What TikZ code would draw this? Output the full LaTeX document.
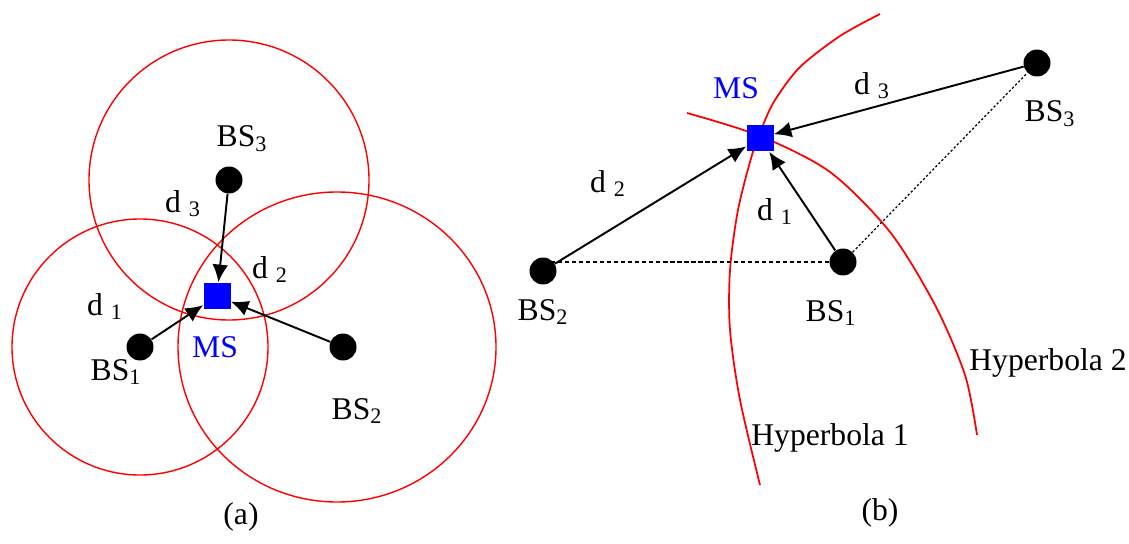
\documentclass[tikz,border=0pt]{standalone}
\usepackage{fontspec}
\setmainfont{Liberation Serif}
\usetikzlibrary{arrows.meta}

\begin{document}
\begin{tikzpicture}[x=0.02cm, y=-0.02cm,
	bs/.style={circle, fill=black, minimum size=0.54cm, inner sep=0pt},
	ms/.style={rectangle, fill=blue, minimum size=0.54cm, inner sep=0pt},
	txt/.style={font=\fontsize{18}{21}\selectfont, inner sep=0pt, anchor=base},
	rng/.style={line width=0.8pt, color=red},
	dist/.style={-{Latex[length=10pt,width=9pt]}, line width=1.1pt}]
	\useasboundingbox (0,0) rectangle (1129,544);
	% (a) circles
	\begin{scope}
	\draw[rng] (229,180) circle (140);
	\draw[rng] (140,347) circle (128);
	\draw[rng] (337,347) ellipse (159 and 155);
	\node[bs] (bs3a) at (229,180) {};
	\node[bs] (bs1a) at (140,347) {};
	\node[bs] (bs2a) at (343,347) {};
	\node[ms] (msa) at (217,296) {};
	\foreach \s in {bs1a, bs2a, bs3a}
		\draw[dist] (\s) -- (msa);
	\node[txt] (lbs3a) at (242,147) {BS\textsubscript{3}};
	\node[txt] (lbs1a) at (116,380) {BS\textsubscript{1}};
	\node[txt] (lbs2a) at (357,419) {BS\textsubscript{2}};
	\node[txt, color=blue] (lmsa) at (215,357) {MS};
	\node[txt] (d3a) at (183,212) {d \textsubscript{3}};
	\node[txt] (d2a) at (270,278) {d \textsubscript{2}};
	\node[txt] (d1a) at (105,315) {d \textsubscript{1}};
	\node[txt] (capa) at (241,524) {(a)};
	\end{scope}
	% (b) hyperbolas
	\begin{scope}
	\draw[rng, line width=1pt] plot[smooth] coordinates {(880,14) (840,36) (800,67) (775,100) (763,125) (752,155) (738,210) (730,270) (730,330) (740,400) (760,485)};
	\draw[rng, line width=1pt] plot[smooth] coordinates {(687,113) (760,136) (830,172) (890,232) (935,305) (965,375) (977,435)};
	\node[bs] (bs1b) at (843,262) {};
	\node[bs] (bs2b) at (543,271) {};
	\node[bs] (bs3b) at (1037,63) {};
	\node[ms] (msb) at (760,138) {};
	\draw[line width=0.8pt, dash pattern=on 2.4pt off 1.6pt] (bs1b) -- (bs1b -| bs2b);
	\draw[line width=0.7pt, dash pattern=on 1.3pt off 1.2pt] (bs1b) -- (bs3b);
	\foreach \s in {bs1b, bs2b, bs3b}
		\draw[dist] (\s) -- (msb);
	\node[txt, color=blue] (lmsb) at (736,99) {MS};
	\node[txt] (d2b) at (608,192) {d \textsubscript{2}};
	\node[txt] (d1b) at (775,220) {d \textsubscript{1}};
	\node[txt] (d3b) at (872,94) {d \textsubscript{3}};
	\node[txt] (lbs3b) at (1050,122) {BS\textsubscript{3}};
	\node[txt] (lbs2b) at (543,320) {BS\textsubscript{2}};
	\node[txt] (lbs1b) at (831,321) {BS\textsubscript{1}};
	\node[txt] (hyp2) at (1048,370) {Hyperbola 2};
	\node[txt] (hyp1) at (830,445) {Hyperbola 1};
	\node[txt] (capb) at (880,520) {(b)};
	\end{scope}
\end{tikzpicture}
\end{document}
